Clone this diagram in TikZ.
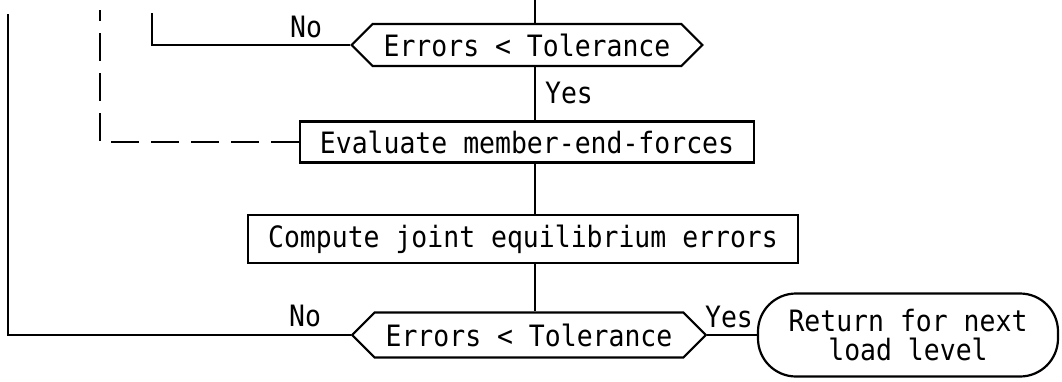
\documentclass[tikz,border=0pt]{standalone}
\usepackage{fontspec}
\setmonofont{DejaVu Sans Mono}[FakeStretch=0.9]
\usetikzlibrary{shapes.symbols}

\tikzset{
  flow/.style={line width=1.1pt},
  process/.style={draw, flow, rectangle, inner xsep=10pt, inner ysep=0pt, minimum height=20.5pt},
  decision/.style={draw, flow, signal, signal to=west and east, inner xsep=5.5pt, inner ysep=0pt, minimum height=21pt},
  terminal/.style={draw, flow, rectangle, rounded corners=19pt, align=center, minimum width=150pt, minimum height=41.5pt},
  answer/.style={inner sep=0pt},
  loopback/.style={flow, dash pattern=on 14pt off 6pt},
}

\begin{document}
\begin{tikzpicture}[x=0.5pt, y=-0.5pt, font=\fontsize{14.7}{14.5}\selectfont\ttfamily]
\useasboundingbox (0,0) rectangle (1062,381);
% loose ends running up to the previous part of the chart
\coordinate (spine) at (535,0);
\coordinate (inner) at (152,13);
\coordinate (dashtop) at (100,10);
\coordinate (outer) at (8,14);

\node[decision] (check1) at (527,45) {Errors < Tolerance};
\node[process] (eval) at (527,142) {Evaluate member-end-forces};
\node[process, minimum height=24pt] (joint) at (523,239) {Compute joint equilibrium errors};
\node[decision, minimum height=22.5pt] (check2) at (529,335) {Errors < Tolerance};
\node[terminal] (ret) at (908,335) {Return for next\\load level};

\node[answer] (no1) at (306,27) {No};
\node[answer] (yes1) at (569,93) {Yes};
\node[answer] (no2) at (305,316) {No};
\node[answer] (yes2) at (729,317) {Yes};

% main line
\draw[flow] (spine) -- (spine |- check1.north);
\draw[flow] (check1.south -| spine) -- (eval.north -| spine);
\draw[flow] (eval.south -| spine) -- (joint.north -| spine);
\draw[flow] (joint.south -| spine) -- (check2.north -| spine);
\draw[flow] (check2.east) -- (ret.west);

% loops back
\draw[flow] (check1.west) -| (inner);
\draw[loopback] (eval.west) -| (dashtop);
\draw[flow] (check2.west) -| (outer);
\end{tikzpicture}
\end{document}
